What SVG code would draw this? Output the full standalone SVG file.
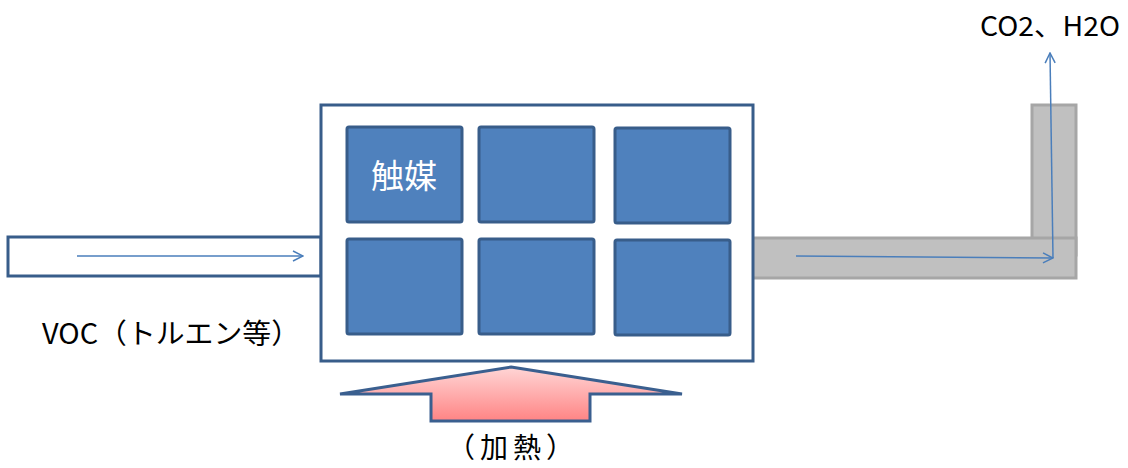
<svg xmlns="http://www.w3.org/2000/svg" width="1128" height="468" viewBox="0 0 1128 468">
<style>
.cat{fill:#4f81bd;stroke:#385d8a;stroke-width:3}
.flow{fill:none;stroke:#4a7ebb;stroke-width:1.5}
.lbl{font-family:"Noto Sans CJK JP","Noto Sans",sans-serif;fill:#000}
</style>
<defs>
<marker id="ah" viewBox="0 0 12 12" refX="11" refY="6" markerWidth="12" markerHeight="12" markerUnits="userSpaceOnUse" orient="auto">
<path d="M1,1 L11,6 L1,11" fill="none" stroke="#4a7ebb" stroke-width="1.5"/>
</marker>
<linearGradient id="heat" x1="0" y1="0" x2="0" y2="1">
<stop offset="0" stop-color="#ffd6d6"/>
<stop offset="1" stop-color="#ff8484"/>
</linearGradient>
</defs>
<g id="inlet"><rect x="8" y="237" width="313" height="39" fill="#fff" stroke="#385d8a" stroke-width="3"/></g>
<g id="outlet">
<rect x="1032" y="105" width="44" height="150" fill="#c0c0c0" stroke="#a6a6a6" stroke-width="3"/>
<rect x="752" y="238" width="324" height="40" fill="#c0c0c0" stroke="#a6a6a6" stroke-width="3"/>
</g>
<g id="reactor"><rect x="321" y="105" width="432" height="256" fill="#fff" stroke="#385d8a" stroke-width="3"/></g>
<g id="catalysts">
<rect id="cat1" class="cat" x="347" y="127" width="115" height="95" rx="2"/>
<rect id="cat2" class="cat" x="479" y="127" width="115" height="95" rx="2"/>
<rect id="cat3" class="cat" x="615" y="128" width="115" height="95" rx="2"/>
<rect id="cat4" class="cat" x="347" y="239" width="115" height="95" rx="2"/>
<rect id="cat5" class="cat" x="479" y="239" width="115" height="95" rx="2"/>
<rect id="cat6" class="cat" x="615" y="240" width="115" height="95" rx="2"/>
<text x="404" y="188" text-anchor="middle" font-family="'Noto Sans CJK JP',sans-serif" font-size="33" fill="#fff">触媒</text>
</g>
<g id="heater"><path d="M511,367 L682,394 L590,394 L590,421 L431,421 L431,394 L340,394 Z" fill="url(#heat)" stroke="#3a5f8f" stroke-width="3" stroke-linejoin="miter"/></g>
<g id="connectors">
<line class="flow" x1="77" y1="256" x2="303" y2="256" marker-end="url(#ah)"/>
<line class="flow" x1="796" y1="256" x2="1053" y2="258" marker-end="url(#ah)"/>
<line class="flow" x1="1053" y1="258" x2="1050" y2="53" marker-end="url(#ah)"/>
</g>
<g id="labels">
<text class="lbl" x="42" y="344" font-size="28" textLength="258" lengthAdjust="spacingAndGlyphs">VOC（トルエン等）</text>
<text class="lbl" x="980" y="36" font-size="27" textLength="140" lengthAdjust="spacingAndGlyphs">CO2、H2O</text>
<text class="lbl" x="513" y="458" font-size="28" text-anchor="middle" letter-spacing="5">（加熱）</text>
</g>
</svg>
